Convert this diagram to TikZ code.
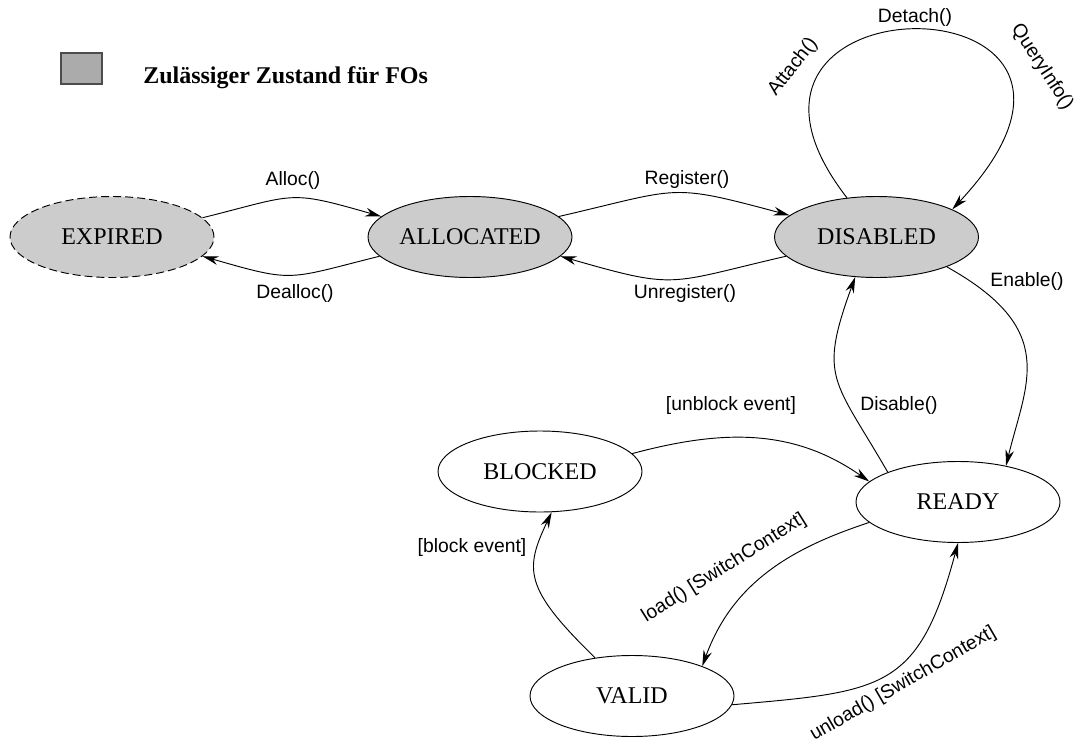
\documentclass[tikz,border=0pt]{standalone}
\usepackage{fontspec}
\setmainfont{Liberation Serif}
\setsansfont{Liberation Sans}
\usepackage{tikz}
\usetikzlibrary{shapes.geometric,arrows.meta}
\definecolor{stategray}{gray}{0.8}
\definecolor{legendgray}{gray}{0.67}
\tikzset{
    plain-state/.style = {draw, ellipse, line width=0.7pt, minimum width=153pt, minimum height=60.75pt, inner sep=0pt, font=\fontsize{18}{20}\selectfont},
    fo-state/.style = {plain-state, fill=stategray},
    trans/.style = {-{Stealth[length=12pt,width=6.5pt]}, line width=0.7pt},
    trans-label/.style = {font=\sffamily\fontsize{14.5}{16}\selectfont, inner sep=1pt},
}

\begin{document}
\begin{tikzpicture}[x=0.75pt,y=0.75pt]
\useasboundingbox (0,0) rectangle (1079,-746);

% legend
\node[draw=black!70, line width=1.2pt, fill=legendgray, minimum width=30.75pt, minimum height=23.25pt, inner sep=0pt] (legend-box) at (81.5,-68.5) {};
\node[anchor=base west, inner sep=0pt, font=\bfseries\fontsize{18}{20}\selectfont] (legend-text) at (143,-83) {Zulässiger Zustand für FOs};

% states
\node[fo-state, dash pattern=on 6pt off 3pt] (expired) at (112,-237) {EXPIRED};
\node[fo-state] (allocated) at (470,-237) {ALLOCATED};
\node[fo-state] (disabled) at (876.5,-237) {DISABLED};
\node[plain-state] (blocked) at (540,-471.5) {BLOCKED};
\node[plain-state] (ready) at (958,-502) {READY};
\node[plain-state] (valid) at (632,-696) {VALID};

% transitions
\draw[trans] (expired.12.7) to[out=14,in=164,looseness=1.4] (allocated.167.6);
\draw[trans] (allocated.192.7) to[out=194,in=-16,looseness=1.4] (expired.-12.4);
\draw[trans] (allocated.13.4) to[out=13,in=165,looseness=1.4] (disabled.166.8);
\draw[trans] (disabled.192.3) to[out=193,in=-16,looseness=1.4] (allocated.-12.2);
\draw[trans] (disabled.127) .. controls +(-176,227) and +(222,237) .. (disabled.20);
\draw[trans] (disabled.-23) .. controls +(113,-63) and +(20,83) .. (ready.37);
\draw[trans] (ready.157) to[out=120,in=-110,looseness=1.4] (disabled.242);
\draw[trans] (blocked.11.8) to[out=15,in=145] (ready.167.6);
\draw[trans] (valid.134) .. controls +(-72,70) and +(-27,-57) .. (blocked.-74);
\draw[trans] (ready.193) to[out=198,in=70] (valid.23);
\draw[trans] (valid.-5.6) to[out=5,in=-105,looseness=1.4] (ready.-90);

% labels
\node[trans-label] (alloc-lbl) at (293,-180) {Alloc()};
\node[trans-label] (dealloc-lbl) at (295,-293) {Dealloc()};
\node[trans-label] (register-lbl) at (687,-180) {Register()};
\node[trans-label] (unregister-lbl) at (685,-293) {Unregister()};
\node[trans-label] (detach-lbl) at (915,-17) {Detach()};
\node[trans-label, rotate=52] (attach-lbl) at (793,-67) {Attach()};
\node[trans-label, rotate=-57] (query-lbl) at (1042,-67) {QueryInfo()};
\node[trans-label] (enable-lbl) at (1027,-281) {Enable()};
\node[trans-label] (disable-lbl) at (899,-405) {Disable()};
\node[trans-label] (unblock-lbl) at (731,-405) {[unblock event]};
\node[trans-label] (block-lbl) at (472,-547) {[block event]};
\node[trans-label, rotate=32] (load-lbl) at (724,-568) {load() [SwitchContext]};
\node[trans-label, rotate=30] (unload-lbl) at (903,-684) {unload() [SwitchContext]};
\end{tikzpicture}
\end{document}
